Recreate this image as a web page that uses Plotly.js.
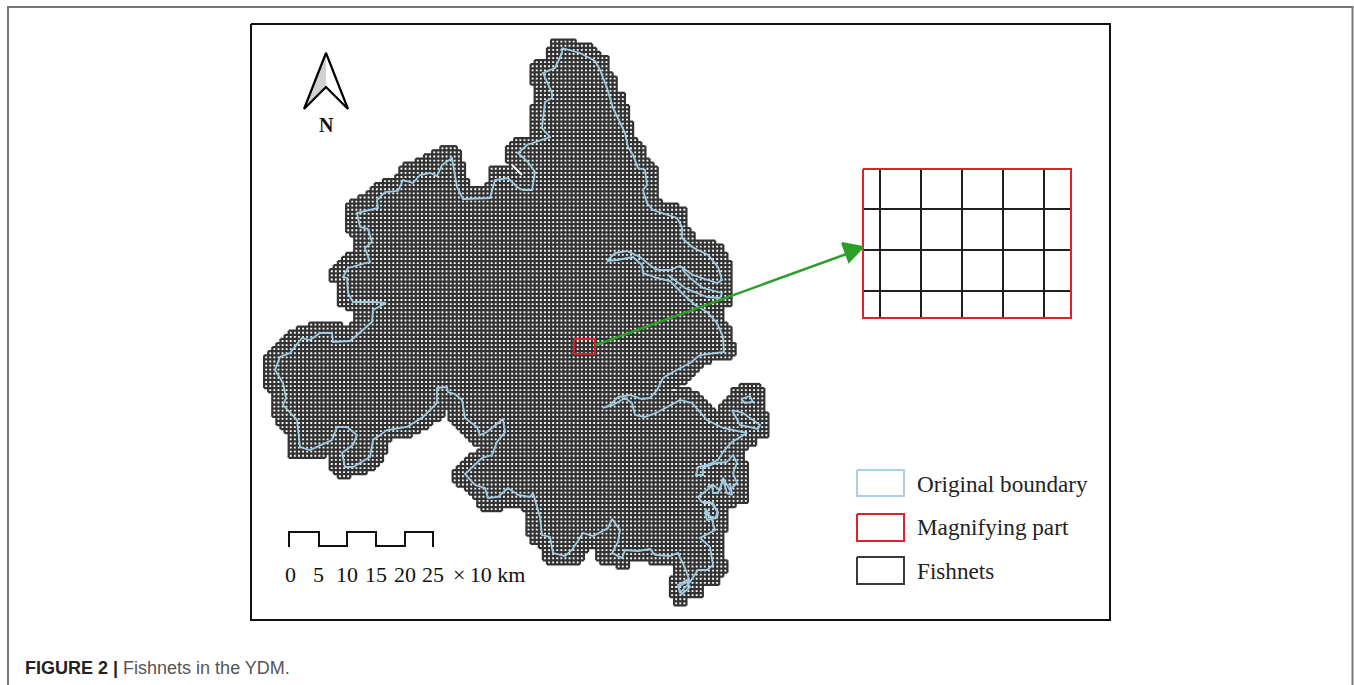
<!DOCTYPE html>
<html><head><meta charset="utf-8">
<script src="https://cdn.plot.ly/plotly-3.0.1.min.js"></script>
<style>html,body{margin:0;padding:0;background:#fff}#c{width:1354px;height:685px}</style>
</head><body><div id="c"></div>
<script>
// Study-area outline of the fishnet (x, y on a 1354 x 685 sheet)
const fishnetOutline = [[553,40],[577,40],[577,44],[588,44],[600,52],[608,59],[608,70],[616,78],[616,90],[623,95],[627,105],[627,117],[635,128],[635,138],[646,147],[646,158],[654,162],[658,170],[658,201],[665,202],[677,205],[688,212],[688,230],[693,232],[693,239],[712,239],[723,248],[727,255],[731,262],[731,305],[723,307],[723,320],[733,332],[734,353],[730,359],[707,362],[695,373],[685,385],[669,387],[669,392],[687,389],[697,394],[712,408],[720,415],[722,400],[730,398],[732,388],[742,385],[757,385],[765,392],[765,411],[769,412],[769,435],[758,437],[755,443],[745,451],[747,480],[749,482],[749,493],[746,494],[746,502],[738,503],[727,510],[727,532],[723,533],[723,561],[727,561],[727,573],[720,577],[720,585],[703,586],[703,595],[688,597],[688,604],[673,604],[673,597],[668,595],[668,578],[673,575],[673,566],[648,566],[648,562],[628,562],[627,569],[615,569],[615,566],[603,566],[598,558],[598,545],[590,547],[577,565],[549,566],[542,557],[542,548],[530,543],[526,523],[526,512],[520,508],[505,508],[500,513],[488,513],[477,507],[475,497],[465,490],[453,480],[453,470],[462,462],[468,455],[483,450],[483,445],[472,443],[463,432],[450,422],[448,403],[445,415],[427,427],[412,435],[389,440],[386,453],[382,463],[367,473],[340,478],[330,467],[330,452],[320,458],[293,458],[288,455],[288,437],[273,417],[273,395],[265,387],[265,358],[273,348],[288,332],[312,324],[340,323],[346,327],[353,323],[358,313],[338,305],[338,285],[331,280],[331,269],[346,254],[354,254],[354,237],[346,232],[346,205],[366,193],[377,183],[396,177],[400,166],[430,155],[442,147],[458,147],[462,162],[466,173],[470,189],[480,189],[488,182],[488,170],[492,166],[512,166],[518,172],[507,160],[507,148],[518,136],[530,136],[530,112],[534,102],[534,87],[530,78],[530,71],[534,62],[549,58],[549,48],[553,48]];
const notchLine = [[512,165],[522,175]];

// Original boundary
const originalBoundary = [[562,48],[580,53],[595,61],[600,70],[607,88],[613,108],[625,133],[628,147],[633,155],[638,168],[645,170],[647,185],[643,190],[647,203],[653,210],[677,218],[682,227],[682,238],[692,247],[708,255],[718,267],[722,280],[717,283],[693,275],[680,266],[670,270],[660,270],[655,269],[640,257],[627,251],[615,253],[607,261],[617,260],[633,257],[642,265],[643,273],[657,278],[670,281],[682,293],[695,305],[707,312],[717,323],[723,337],[724,352],[700,355],[690,363],[673,372],[663,378],[657,390],[650,398],[642,399],[630,395],[618,397],[610,405],[603,408],[613,405],[625,398],[632,403],[635,415],[645,417],[658,412],[680,400],[692,403],[707,420],[723,428],[747,433],[732,442],[723,452],[718,460],[707,465],[698,467],[696,475],[703,475],[703,468],[717,463],[727,462],[733,455],[737,463],[733,473],[737,483],[730,490],[723,478],[720,490],[713,485],[707,490],[698,497],[702,502],[710,502],[718,512],[715,518],[707,515],[705,508],[712,520],[715,530],[700,538],[710,547],[713,565],[707,570],[698,570],[690,582],[680,593],[678,585],[687,580],[690,582],[685,568],[678,553],[670,556],[655,555],[650,549],[638,551],[625,550],[622,558],[612,553],[618,542],[620,530],[612,519],[608,528],[593,536],[583,533],[572,550],[565,556],[553,553],[550,537],[542,535],[540,517],[533,493],[530,497],[518,495],[508,488],[498,497],[488,498],[485,488],[475,485],[465,474],[482,458],[492,455],[497,442],[505,432],[503,419],[487,432],[480,435],[477,427],[465,418],[462,400],[455,394],[448,392],[447,387],[437,388],[437,403],[423,417],[407,427],[387,430],[373,440],[370,457],[353,467],[345,467],[342,453],[353,445],[357,435],[347,427],[337,427],[332,440],[310,450],[300,447],[297,420],[283,405],[286,398],[283,383],[275,370],[280,357],[290,353],[302,338],[310,340],[320,333],[332,333],[333,342],[350,341],[363,330],[372,322],[373,310],[386,303],[375,302],[353,302],[348,293],[347,278],[343,277],[348,268],[370,262],[365,248],[372,242],[368,229],[360,227],[357,213],[378,208],[377,200],[385,192],[398,191],[403,180],[413,183],[420,175],[430,173],[437,176],[442,165],[452,158],[457,187],[463,199],[490,198],[495,180],[508,178],[517,187],[523,190],[532,190],[535,172],[528,162],[518,153],[527,145],[550,137],[542,128],[545,102],[552,98],[552,93],[543,73],[555,68],[562,53],[562,48]];
const riverBranch = [[668,275],[685,288],[707,297],[720,298],[722,293],[703,288],[690,278],[682,269]];
const lakeOne = [[741,399],[750,396],[753,402],[745,403],[741,399]];
const lakeTwo = [[732,410],[743,413],[760,425],[758,429],[740,425],[735,415],[732,410]];
const wetlandOne = [[707,487],[712,485],[713,493],[718,493],[723,480],[727,493],[732,495],[730,483]];
const wetlandTwo = [[703,503],[713,503],[718,513],[717,518],[707,520],[705,512],[710,510]];
const southLoop = [[678,587],[687,582],[690,587],[682,594],[678,587]];

// Magnified inset
const insetColumns = [880,921,962,1003,1044];
const insetRows = [209,250,291];
const insetBox = [[863,169],[1071,169],[1071,318],[863,318],[863,169]];
const sourceBox = [[574,339],[595,339],[595,354],[574,354],[574,339]];
const arrowShaft = [[596,345],[852,252]];
const arrowHead = [[842,243],[863,247],[849,262],[842,243]];

// Sheet furniture
const mapFrame = [[251,24],[1110,24],[1110,620],[251,620],[251,24]];
const sheetEdge = [[8,685],[8,7],[1352.5,7],[1352.5,685]];
const northOutline = [[304,109],[326,53],[348,109],[326,87],[304,109]];
const northShade = [[326,53],[304,109],[326,87],[326,53]];
const scaleBar = [[289,547],[289,532],[319,532],[319,546],[347,546],[347,532],[376,532],[376,546],[405,546],[405,532],[433,532],[433,547]];
const scaleTicks = ['0','5','10','15','20','25'];
const scaleTickX = [290,318,347,376,405,433];
const legendLabels = ['Original boundary','Magnifying part','Fishnets'];
const legendColors = ['#a9d0e6','#e0202f','#3a3a3a'];
const legendBoxes = [[857,470,904,496],[857,514,904,541],[857,557,904,584]];

// Fishnet cell pitch and origin
const CELL = 4.1, ORIGIN_X = 575.7, ORIGIN_Y = 343;

function inside(px, py, poly){
  let c = false;
  for(let i=0,j=poly.length-1;i<poly.length;j=i++){
    const [xi,yi]=poly[i],[xj,yj]=poly[j];
    if((yi>py)!==(yj>py) && px < (xj-xi)*(py-yi)/(yj-yi)+xi) c=!c;
  }
  return c;
}
const iMin=Math.floor((260-ORIGIN_X)/CELL), iMax=Math.ceil((775-ORIGIN_X)/CELL);
const jMin=Math.floor((35-ORIGIN_Y)/CELL), jMax=Math.ceil((610-ORIGIN_Y)/CELL);
const isCell=(i,j)=>inside(ORIGIN_X+(i+.5)*CELL,ORIGIN_Y+(j+.5)*CELL,fishnetOutline);
const cells={}; 
for(let i=iMin-1;i<=iMax+1;i++)for(let j=jMin-1;j<=jMax+1;j++)cells[i+','+j]=isCell(i,j);
const on=(i,j)=>!!cells[i+','+j];
const netX=[],netY=[];
for(let j=jMin;j<=jMax+1;j++){ let start=null;
  for(let i=iMin;i<=iMax+1;i++){ const e=on(i,j)||on(i,j-1);
    if(e&&start===null)start=i;
    if(!e&&start!==null){netX.push(ORIGIN_X+start*CELL,ORIGIN_X+i*CELL,null);const y=ORIGIN_Y+j*CELL;netY.push(y,y,null);start=null;}
  }
}
for(let i=iMin;i<=iMax+1;i++){ let start=null;
  for(let j=jMin;j<=jMax+1;j++){ const e=on(i,j)||on(i-1,j);
    if(e&&start===null)start=j;
    if(!e&&start!==null){const x=ORIGIN_X+i*CELL;netX.push(x,x,null);netY.push(ORIGIN_Y+start*CELL,ORIGIN_Y+j*CELL,null);start=null;}
  }
}

const xs=a=>a.map(p=>p[0]), ys=a=>a.map(p=>p[1]);
const line=(pts,color,width,extra)=>Object.assign({type:'scatter',mode:'lines',x:xs(pts),y:ys(pts),line:{color:color,width:width},hoverinfo:'skip',showlegend:false},extra||{});
const traces=[];
traces.push({type:'scatter',mode:'lines',x:netX,y:netY,line:{color:'#333333',width:2.25},hoverinfo:'skip',showlegend:false,connectgaps:false});
traces.push(line(notchLine,'#ffffff',2));
[originalBoundary,riverBranch,lakeOne,lakeTwo,wetlandOne,wetlandTwo,southLoop].forEach(p=>traces.push(line(p,'#9fcbe2',1.8)));
insetColumns.forEach(x=>traces.push(line([[x,169],[x,318]],'#1f1f1f',2)));
insetRows.forEach(y=>traces.push(line([[863,y],[1071,y]],'#1f1f1f',2)));
traces.push(line(insetBox,'#e0202f',2));
traces.push(line(sourceBox,'#d8202c',2));
traces.push(line(arrowShaft,'#2e9e2a',2.5));
traces.push(line(arrowHead,'#2e9e2a',2,{fill:'toself',fillcolor:'#2e9e2a'}));
traces.push(line(mapFrame,'#111111',2));
traces.push(line(sheetEdge,'#777777',2));
traces.push(line(northShade,'rgba(0,0,0,0)',0,{fill:'toself',fillcolor:'#d2d2d2'}));
traces.push(line(northOutline,'#000000',2.2));
traces.push(line(scaleBar,'#111111',2));
legendBoxes.forEach((b,k)=>traces.push(line([[b[0],b[1]],[b[2],b[1]],[b[2],b[3]],[b[0],b[3]],[b[0],b[1]]],legendColors[k],2)));

const serif='"Liberation Serif", serif', sans='"Liberation Sans", Arial, sans-serif';
const ann=(x,y,text,size,family,color,anchor)=>({xref:'x',yref:'y',x:x,y:y,text:text,showarrow:false,xanchor:anchor||'center',yanchor:'middle',font:{size:size,family:family,color:color||'#111'}});
const annotations=[];
scaleTicks.forEach((t,k)=>annotations.push(ann(scaleTickX[k],574,t,22,serif)));
annotations.push(ann(451,574,'×\u200910 km',22,serif,'#111','left'));
annotations.push(ann(326,125,'<b>N</b>',20,serif));
legendLabels.forEach((t,k)=>annotations.push(ann(915,[484,527,571][k],t,23.2,serif,'#222','left')));
annotations.push(ann(23,668,'<b>FIGURE 2 |</b> <span style="color:#555555">Fishnets in the YDM.</span>',18,sans,'#222','left'));

Plotly.newPlot('c',traces,{
  width:1354,height:685,margin:{l:0,r:0,t:0,b:0},paper_bgcolor:'#fff',plot_bgcolor:'#fff',showlegend:false,
  xaxis:{range:[0,1354],visible:false,fixedrange:true},
  yaxis:{range:[685,0],visible:false,fixedrange:true},
  annotations:annotations
},{displayModeBar:false,staticPlot:true});
</script></body></html>
